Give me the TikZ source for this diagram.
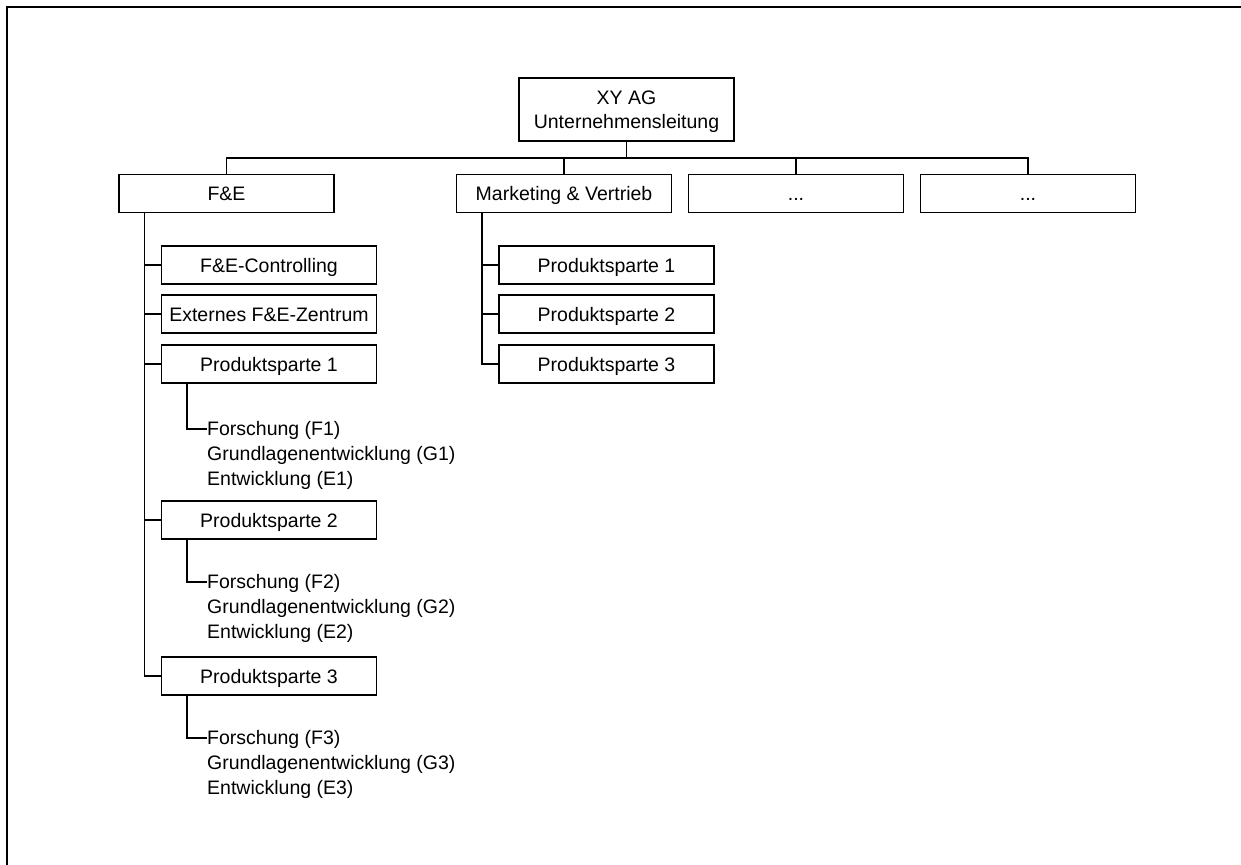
\documentclass[tikz,border=0pt]{standalone}
\usepackage{fontspec}
\setmainfont{Liberation Sans}
\begin{document}
\begin{tikzpicture}[x=1pt,y=-1pt,
  box/.style={draw, line width=1.1pt, minimum width=215pt, minimum height=38pt, inner sep=0pt,
    text height=14pt, text depth=0pt, font=\fontsize{19.5}{24.5}\selectfont},
  topbox/.style={draw, line width=1.1pt, minimum width=215pt, minimum height=63pt, inner sep=0pt,
    align=center, text depth=0pt, font=\fontsize{19.5}{24.5}\selectfont},
  listtext/.style={anchor=north west, inner sep=0pt, align=left, font=\fontsize{19.5}{25}\selectfont},
  conn/.style={line width=1.1pt},
  frame/.style={line width=2pt}]
\useasboundingbox (0,0) rectangle (1241,864);
\clip (0,0) rectangle (1241,864);
\draw[frame] (7,880) -- (7,7.5) -- (1260,7.5);

% top
\node[topbox] (XY) at (626.5,109.5) {XY AG\\Unternehmensleitung};
% level 1
\node[box] (FE) at (226.5,193.5) {F\&E};
\node[box] (MV) at (564,193.5) {Marketing \& Vertrieb};
\node[box] (D1) at (796,193.5) {...};
\node[box] (D2) at (1028,193.5) {...};
\coordinate (bus) at (626.5,158);
\draw[conn] (XY.south) -- (bus);
\draw[conn] (FE.north) -- (FE.north |- bus) -- (D2.north |- bus) -- (D2.north);
\draw[conn] (MV.north) -- (MV.north |- bus);
\draw[conn] (D1.north) -- (D1.north |- bus);

% F&E column
\node[box] (FC) at (269,265) {F\&E-Controlling};
\node[box] (FZ) at (269,314) {Externes F\&E-Zentrum};
\node[box] (FP1) at (269,364) {Produktsparte 1};
\node[box] (FP2) at (269,520) {Produktsparte 2};
\node[box] (FP3) at (269,676) {Produktsparte 3};
\coordinate (fel) at ([xshift=26pt]FE.south west);
\draw[conn] (fel) |- (FP3.west);
\draw[conn] (fel |- FC.west) -- (FC.west);
\draw[conn] (fel |- FZ.west) -- (FZ.west);
\draw[conn] (fel |- FP1.west) -- (FP1.west);
\draw[conn] (fel |- FP2.west) -- (FP2.west);

\node[listtext] (T1) at (207,421.5) {Forschung (F1)\\Grundlagenentwicklung (G1)\\Entwicklung (E1)};
\node[listtext] (T2) at (207,574.5) {Forschung (F2)\\Grundlagenentwicklung (G2)\\Entwicklung (E2)};
\node[listtext] (T3) at (207,730.5) {Forschung (F3)\\Grundlagenentwicklung (G3)\\Entwicklung (E3)};
\draw[conn] ([xshift=26pt]FP1.south west) |- ([yshift=-7.5pt]T1.north west);
\draw[conn] ([xshift=26pt]FP2.south west) |- ([yshift=-7.5pt]T2.north west);
\draw[conn] ([xshift=26pt]FP3.south west) |- ([yshift=-7.5pt]T3.north west);

% Marketing column
\node[box] (MP1) at (606.5,265) {Produktsparte 1};
\node[box] (MP2) at (606.5,314) {Produktsparte 2};
\node[box] (MP3) at (606.5,364) {Produktsparte 3};
\coordinate (mvl) at ([xshift=26pt]MV.south west);
\draw[conn] (mvl) |- (MP3.west);
\draw[conn] (mvl |- MP1.west) -- (MP1.west);
\draw[conn] (mvl |- MP2.west) -- (MP2.west);
\end{tikzpicture}
\end{document}
